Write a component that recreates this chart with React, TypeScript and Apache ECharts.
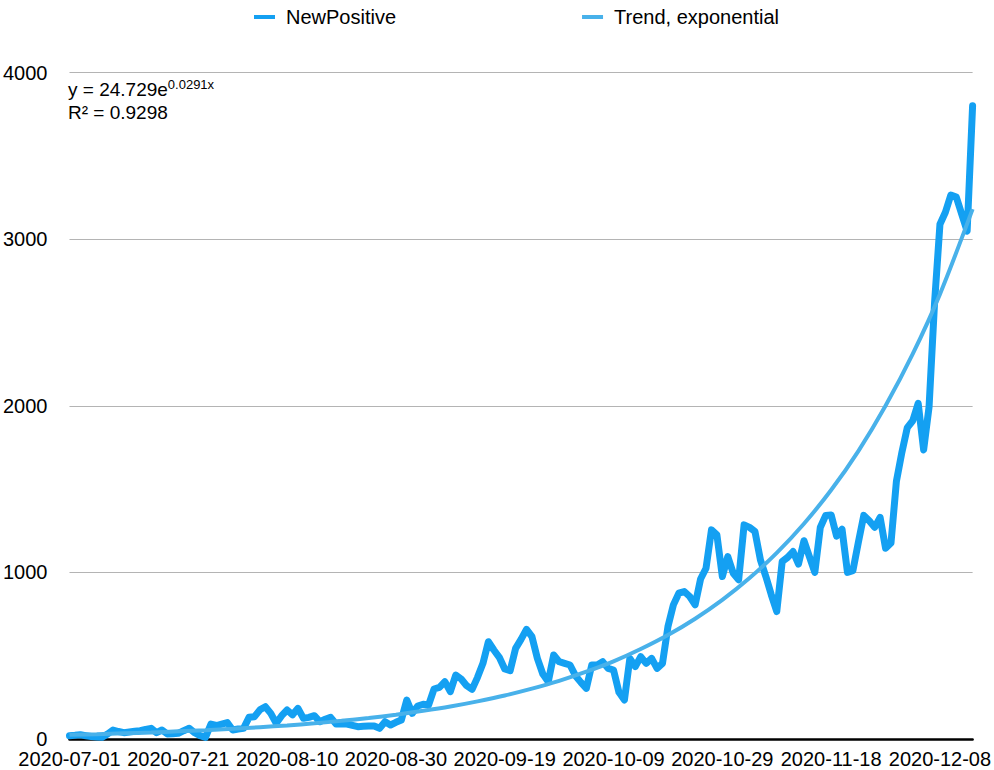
import React, { useEffect, useRef } from 'react';
import * as echarts from 'echarts';

// daily new positives, 2020-07-01 .. 2020-12-14
const startDate = '2020-07-01';
const newPositive = [
  20, 22, 25, 20, 15, 12, 10, 30, 54, 45,
  38, 42, 46, 50, 58, 64, 38, 54, 30, 32,
  34, 50, 64, 38, 20, 10, 89, 81, 90, 99,
  54, 60, 64, 130, 134, 175, 194, 154, 94, 140,
  174, 145, 184, 124, 130, 140, 104, 118, 130, 90,
  92, 90, 82, 74, 76, 78, 78, 64, 104, 84,
  100, 114, 234, 154, 198, 208, 204, 300, 310, 344,
  284, 384, 360, 320, 298, 370, 454, 584, 534, 490,
  420, 410, 544, 598, 658, 614, 484, 390, 344, 504,
  464, 454, 444, 380, 340, 304, 444, 444, 464, 424,
  414, 280, 234, 484, 434, 494, 454, 484, 424, 454,
  674, 805, 875, 885, 855, 805, 960, 1025, 1255, 1225,
  975, 1095, 995, 955, 1285, 1270, 1245, 1075, 975, 865,
  765, 1065, 1090, 1125, 1050, 1190, 1095, 1000, 1269, 1342,
  1345, 1217, 1259, 1000, 1010, 1180, 1342, 1310, 1270, 1330,
  1145, 1176, 1548, 1720, 1869, 1910, 2014, 1735, 1994, 2614,
  3089, 3161, 3265, 3253, 3150, 3048, 3800,
];

// exponential trend, sampled from the drawn curve (day index -> value)
const trendDays = [
  0, 5, 10, 15, 20, 25, 30, 35, 40, 45, 50, 55, 60, 65, 70, 75, 80,
  85, 90, 95, 100, 105, 110, 115, 120, 125, 130, 135, 140, 145, 150, 155, 160, 166,
];
const trendValues = [
  25, 29, 34, 39, 46, 53, 61, 71, 81, 94, 109, 126, 146, 169, 195, 226, 261,
  302, 349, 404, 466, 540, 624, 722, 835, 966, 1117, 1292, 1494, 1728, 2000, 2311, 2670, 3180,
];

const yTicks = [0, 1000, 2000, 3000, 4000];
const equation = ['y = 24.729e', '0.0291x'];
const rSquared = 'R² = 0.9298';

const FONT = '"Liberation Sans", Arial, Helvetica, sans-serif';

function buildDates(start: string, n: number) {
  const [y, m, d] = start.split('-').map(Number);
  const out: string[] = [];
  for (let i = 0; i < n; i++) {
    out.push(new Date(Date.UTC(y, m - 1, d + i)).toISOString().slice(0, 10));
  }
  return out;
}

export default function App() {
  const chartRef = useRef<HTMLDivElement>(null);

  useEffect(() => {
    if (!chartRef.current) return;
    const chart = echarts.init(chartRef.current, undefined, { renderer: 'svg' });
    const dates = buildDates(startDate, newPositive.length);

    chart.setOption({
      animation: false,
      textStyle: { fontFamily: FONT },
      legend: {
        left: 249,
        top: 2,
        icon: 'rect',
        itemWidth: 21,
        itemHeight: 4,
        itemGap: 186,
        textStyle: { fontSize: 20, color: '#000', fontFamily: FONT, padding: [0, 0, 0, 6] },
        data: ['NewPositive', 'Trend, exponential'],
      },
      grid: { left: 66.5, right: 18, top: 72.5, bottom: 31, containLabel: false },
      xAxis: [
        {
          type: 'category',
          data: dates,
          boundaryGap: false,
          axisLine: { lineStyle: { color: '#000', width: 2.5 } },
          axisTick: { show: false },
          axisLabel: {
            interval: 19,
            fontSize: 20,
            lineHeight: 20,
            color: '#000',
            margin: 10,
            fontFamily: FONT,
          },
          splitLine: { show: false },
        },
        {
          type: 'value',
          min: 0,
          max: newPositive.length - 1,
          show: false,
        },
      ],
      yAxis: {
        type: 'value',
        min: yTicks[0],
        max: yTicks[yTicks.length - 1],
        interval: 1000,
        axisLine: { show: false },
        axisTick: { show: false },
        axisLabel: {
          fontSize: 20,
          lineHeight: 15,
          color: '#000',
          margin: 22,
          fontFamily: FONT,
          formatter: (v: number) => String(v),
        },
        splitLine: { lineStyle: { color: '#b4b4b4', width: 1 } },
      },
      series: [
        {
          name: 'NewPositive',
          type: 'line',
          xAxisIndex: 0,
          data: newPositive,
          showSymbol: false,
          symbol: 'none',
          color: '#14a0f2',
          lineStyle: { width: 7, color: '#14a0f2', join: 'round', cap: 'round' },
        },
        {
          name: 'Trend, exponential',
          type: 'line',
          xAxisIndex: 1,
          data: trendDays.map((d, i) => [d, trendValues[i]]),
          smooth: 0.3,
          showSymbol: false,
          symbol: 'none',
          color: '#48b1ea',
          lineStyle: { width: 4, color: '#48b1ea' },
        },
      ],
      graphic: [
        {
          type: 'text',
          left: 68,
          top: 78,
          style: {
            text: `{a|${equation[0]}}{b|${equation[1]}}`,
            fill: '#000',
            rich: {
              a: { fontSize: 19, fontFamily: FONT, lineHeight: 22, fill: '#000' },
              b: { fontSize: 13, fontFamily: FONT, verticalAlign: 'top', lineHeight: 22, fill: '#000' },
            },
          },
        },
        {
          type: 'text',
          left: 68,
          top: 103,
          style: { text: rSquared, fontSize: 19, fontFamily: FONT, fill: '#000' },
        },
      ],
    });

    return () => {
      chart.dispose();
    };
  }, []);

  return (
    <div
      ref={chartRef}
      style={{ position: 'fixed', left: 0, top: 0, width: 994, height: 770, background: '#fff' }}
    />
  );
}
